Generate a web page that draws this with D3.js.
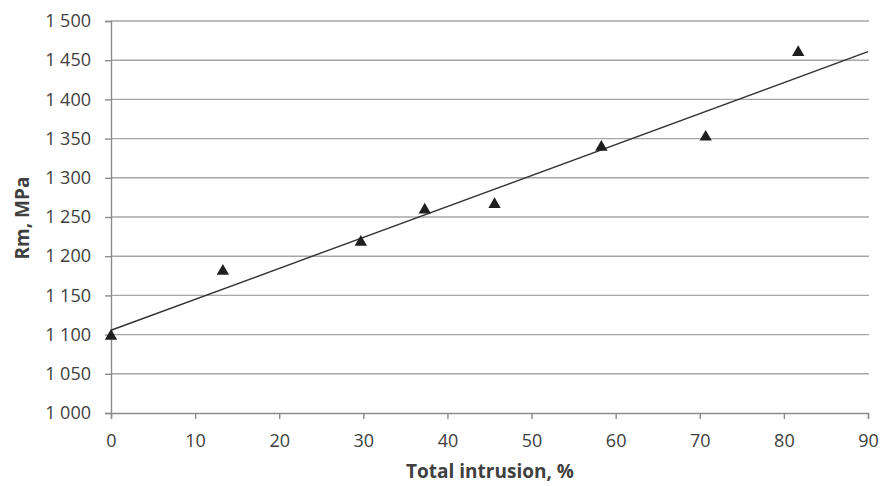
<!DOCTYPE html>
<html lang="en">
<head>
<meta charset="UTF-8">
<title>Rm vs total intrusion</title>
<script src="https://d3js.org/d3.v7.min.js"></script>
<style>
  body { margin: 0; background: #fff; }
  text { font-family: "Open Sans", sans-serif; fill: #404040; }
</style>
</head>
<body>
<div id="container"></div>
<script>
    // values
    var intrusion = [0, 13.3, 29.7, 37.3, 45.6, 58.3, 70.7, 81.7];
    var rm = [1098, 1181, 1218, 1259, 1266, 1339, 1352, 1460];
    var xTicks = [0, 10, 20, 30, 40, 50, 60, 70, 80, 90];
    var yTicks = [1000, 1050, 1100, 1150, 1200, 1250, 1300, 1350, 1400, 1450, 1500];

    var width = 881, height = 486;
    var margin = { left: 111, right: 13, top: 21, bottom: 73 };

    var x = d3.scaleLinear().domain([0, 90]).range([margin.left, width - margin.right]);
    var y = d3.scaleLinear().domain([1000, 1500]).range([height - margin.bottom, margin.top]);

    var fmt = function (d) { return d3.format(",")(d).replace(",", " "); };

    var svg = d3.select("#container").append("svg")
        .attr("width", width)
        .attr("height", height);

    // horizontal gridlines
    svg.append("g")
        .selectAll("line")
        .data(yTicks.slice(1))
        .enter()
        .append("line")
        .attr("x1", x(0))
        .attr("x2", x(90) + 1)
        .attr("y1", (d) => y(d))
        .attr("y2", (d) => y(d))
        .attr("stroke", "#a6a6a6")
        .attr("stroke-width", 1.4);

    // y axis
    var yAxis = svg.append("g")
        .attr("transform", "translate(" + x(0) + ",0)")
        .call(d3.axisLeft(y).tickValues(yTicks).tickFormat(fmt).tickSize(6).tickPadding(14));
    yAxis.selectAll("text").style("font-size", "18px");

    // x axis
    var xAxis = svg.append("g")
        .attr("transform", "translate(0," + y(1000) + ")")
        .call(d3.axisBottom(x).tickValues(xTicks).tickSize(6).tickPadding(15));
    xAxis.selectAll("text").style("font-size", "18px");

    svg.selectAll(".domain, .tick line")
        .attr("stroke", "#8c8c8c")
        .attr("stroke-width", 1.4);

    // linear trendline (least squares on the points)
    var mx = d3.mean(intrusion), my = d3.mean(rm);
    var sxy = d3.sum(intrusion, (d, i) => (d - mx) * (rm[i] - my));
    var sxx = d3.sum(intrusion, (d) => (d - mx) * (d - mx));
    var slope = sxy / sxx, icpt = my - slope * mx;

    svg.append("line")
        .attr("x1", x(0))
        .attr("y1", y(icpt))
        .attr("x2", x(90))
        .attr("y2", y(icpt + slope * 90))
        .attr("stroke", "#333")
        .attr("stroke-width", 1.4);

    // triangle markers
    var tri = d3.symbol().type(d3.symbolTriangle).size(66);
    svg.append("g")
        .selectAll("path")
        .data(intrusion)
        .enter()
        .append("path")
        .attr("d", tri)
        .attr("transform", (d, i) => "translate(" + x(d) + "," + y(rm[i]) + ")")
        .attr("fill", "#1f1f1f");

    // axis titles
    svg.append("text")
        .attr("x", 490)
        .attr("y", 478)
        .attr("text-anchor", "middle")
        .style("font-size", "19px")
        .style("font-weight", "bold")
        .text("Total intrusion, %");

    svg.append("text")
        .attr("transform", "translate(29," + 218 + ") rotate(-90)")
        .attr("text-anchor", "middle")
        .style("font-size", "19px")
        .style("font-weight", "bold")
        .text("Rm, MPa");
</script>
</body>
</html>
